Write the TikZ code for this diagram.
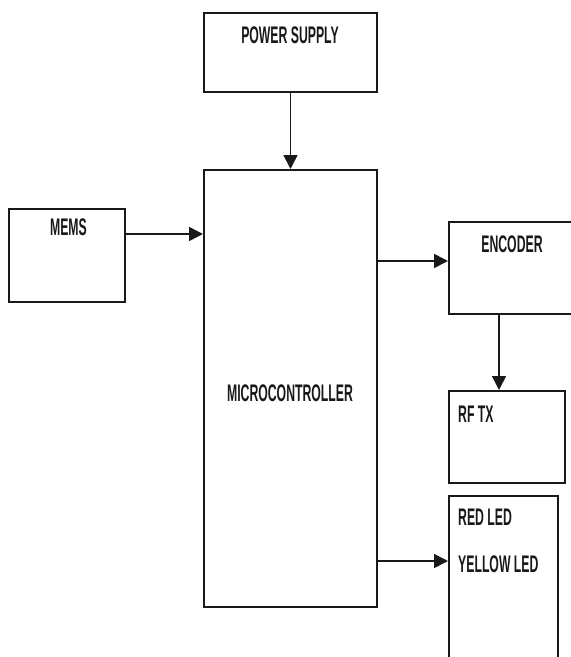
\documentclass[tikz,border=0pt]{standalone}
\usepackage{fontspec}
\usepackage{graphicx}
\usepackage{tikz}
\usetikzlibrary{arrows.meta, positioning, calc}
\setmainfont{Liberation Sans}
\newcommand{\blocktext}[1]{\scalebox{0.51}[1]{\fontsize{24}{28}\selectfont\bfseries #1}}
\definecolor{lineblack}{RGB}{25, 25, 25}

\tikzset{
    blk/.style={draw=lineblack, line width=2pt, fill=white, inner sep=0pt},
    lbl/.style={inner sep=0pt, text=black!90},
    arr/.style={draw=lineblack, line width=1.6pt, -{Triangle[length=14pt, width=14pt]}}
}

\begin{document}
\begin{tikzpicture}[x=1pt, y=-1pt]
        \useasboundingbox (0,0) rectangle (571,657);
        \clip (0,0) rectangle (571,657);

        % Blocks
        \node[blk, minimum width=173pt, minimum height=79pt] (psu) at (290.5,52.5) {};
        \node[blk, minimum width=173pt, minimum height=437pt] (mcu) at (290.5,388.5) {};
        \node[blk, minimum width=116pt, minimum height=93pt] (mems) at (67,255.5) {};
        \node[blk, minimum width=141pt, minimum height=92pt] (enc) at (519.5,268) {}; % runs off the right edge
        \node[blk, minimum width=116pt, minimum height=92pt] (rf) at (507,437) {};
        \node[blk, minimum width=109pt, minimum height=184pt] (led) at (503.5,588) {}; % runs off the bottom

        % Labels
        \node[lbl] (psutext) at (290,35) {\blocktext{POWER SUPPLY}};
        \node[lbl] (mcutext) at (290,393.5) {\blocktext{MICROCONTROLLER}};
        \node[lbl] (memstext) at (68.5,227) {\blocktext{MEMS}};
        \node[lbl] (enctext) at (512,244) {\blocktext{ENCODER}};
        \node[lbl, anchor=west] (rftext) at (458,414) {\blocktext{RF TX}};
        \node[lbl, anchor=west] (redtext) at (458,517) {\blocktext{RED LED}};
        \node[lbl, anchor=west] (yeltext) at (458,564) {\blocktext{YELLOW LED}};

        % Connections
        \draw[arr] (psu.south) -- (mcu.north);
        \draw[arr] ([yshift=-26pt]mems.north east) coordinate (memsout) -- (memsout -| mcu.west);
        \coordinate (encin) at ([yshift=-40pt]enc.north west);
        \draw[arr] (encin -| mcu.east) -- (encin);
        \draw[arr] ([xshift=51pt]enc.south west) coordinate (encout) -- (encout |- rf.north);
        \coordinate (ledin) at ([yshift=-66pt]led.north west);
        \draw[arr] (ledin -| mcu.east) -- (ledin);
    \end{tikzpicture}
\end{document}
